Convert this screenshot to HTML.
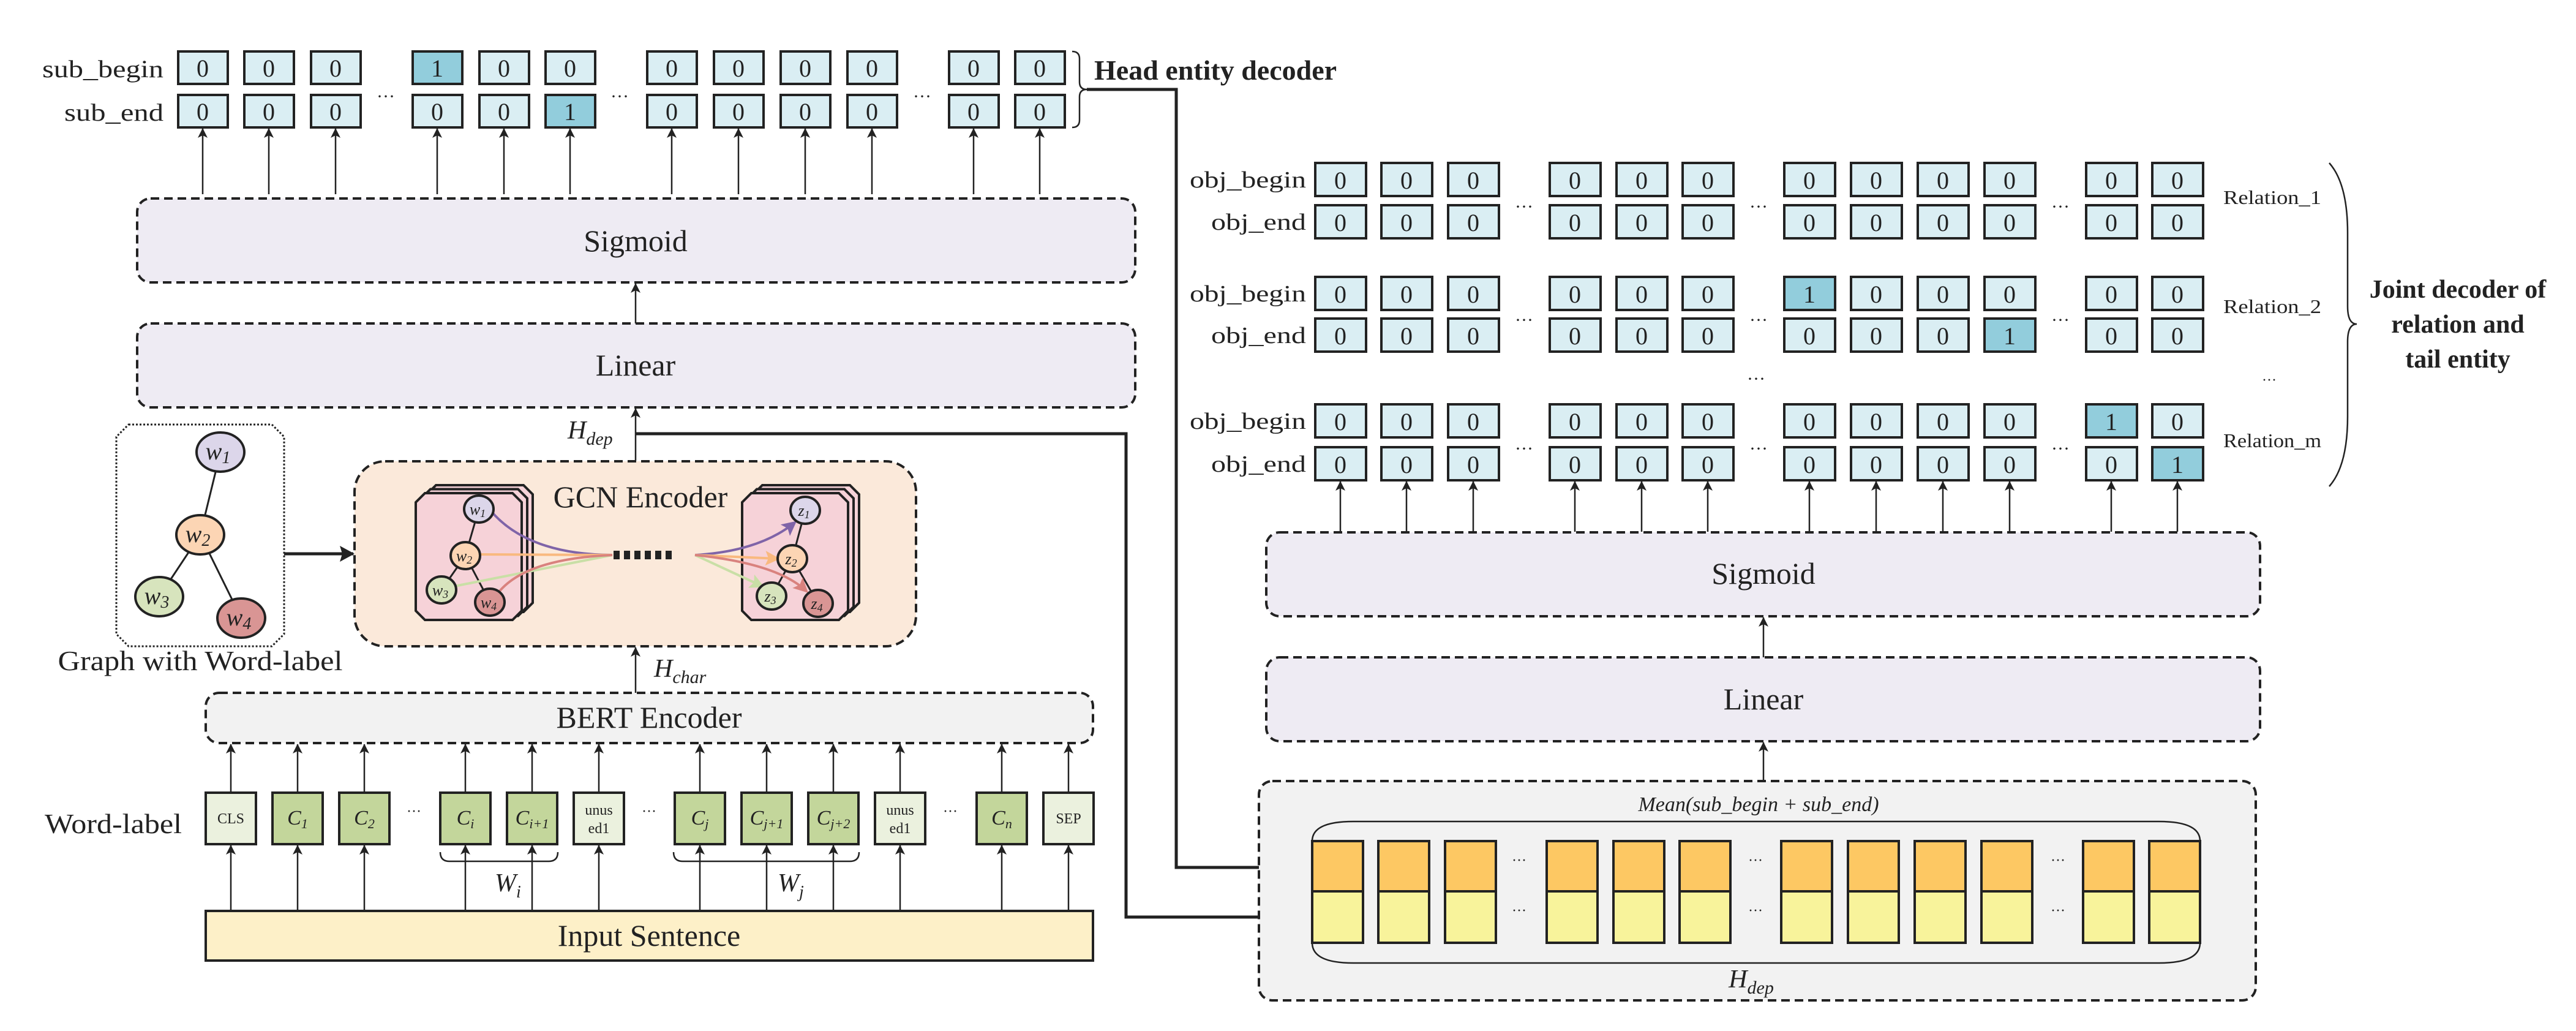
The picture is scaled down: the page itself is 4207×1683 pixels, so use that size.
<!DOCTYPE html>
<html><head><meta charset="utf-8"><style>
html,body{margin:0;padding:0;background:#fff}
svg{display:block}
text{font-family:"Liberation Serif",serif;fill:#222}
.b{fill:#daeef3;stroke:#222;stroke-width:4}
.h{fill:#92cddc;stroke:#222;stroke-width:4}
.d{font-size:40px;text-anchor:middle}
.dash{stroke:#222;stroke-width:4;stroke-dasharray:14 8}
.ln{stroke:#222;stroke-width:2.5;fill:none}
.lbl{font-size:40px;text-anchor:end}
.big{font-size:50px;text-anchor:middle}
.tk{stroke:#222;stroke-width:4}
.ell{stroke:#222;stroke-width:4}
</style></head><body>
<svg width="4207" height="1683" viewBox="0 0 4207 1683" xmlns="http://www.w3.org/2000/svg">
<defs>
<marker id="a" markerUnits="userSpaceOnUse" markerWidth="16" markerHeight="26" refX="15" refY="8" orient="auto"><path d="M0,0 L16,8 L0,16 L4,8z" fill="#222"/></marker>
<marker id="A" markerUnits="userSpaceOnUse" markerWidth="24" markerHeight="30" refX="22" refY="13" orient="auto"><path d="M0,0 L24,13 L0,26 L4,13z" fill="#222"/></marker>
<marker id="ap" markerUnits="userSpaceOnUse" markerWidth="30" markerHeight="30" refX="20" refY="12" orient="auto"><path d="M0,0 L24,12 L0,24 L5,12z" fill="#7f64a8"/></marker>
<marker id="ao" markerUnits="userSpaceOnUse" markerWidth="30" markerHeight="30" refX="20" refY="12" orient="auto"><path d="M0,0 L24,12 L0,24 L5,12z" fill="#f9b97f"/></marker>
<marker id="ag" markerUnits="userSpaceOnUse" markerWidth="30" markerHeight="30" refX="20" refY="12" orient="auto"><path d="M0,0 L24,12 L0,24 L5,12z" fill="#c9dfa6"/></marker>
<marker id="ar" markerUnits="userSpaceOnUse" markerWidth="30" markerHeight="30" refX="20" refY="12" orient="auto"><path d="M0,0 L24,12 L0,24 L5,12z" fill="#d9827e"/></marker>
</defs>

<text class="lbl" x="267" y="126" textLength="198" lengthAdjust="spacingAndGlyphs">sub_begin</text>
<text class="lbl" x="267" y="197" textLength="162" lengthAdjust="spacingAndGlyphs">sub_end</text>
<g transform="translate(291,84)">
<rect class="b" x="0" width="81" height="53"/><rect class="b" x="108" width="81" height="53"/><rect class="b" x="217" width="81" height="53"/>
<rect class="h" x="383" width="81" height="53"/><rect class="b" x="492" width="81" height="53"/><rect class="b" x="600" width="81" height="53"/>
<rect class="b" x="766" width="81" height="53"/><rect class="b" x="875" width="81" height="53"/><rect class="b" x="984" width="81" height="53"/><rect class="b" x="1093" width="81" height="53"/>
<rect class="b" x="1259" width="81" height="53"/><rect class="b" x="1367" width="81" height="53"/>
<text class="d" x="40" y="41">0</text><text class="d" x="148" y="41">0</text><text class="d" x="257" y="41">0</text><text class="d" x="423" y="41">1</text><text class="d" x="532" y="41">0</text><text class="d" x="640" y="41">0</text><text class="d" x="806" y="41">0</text><text class="d" x="915" y="41">0</text><text class="d" x="1024" y="41">0</text><text class="d" x="1133" y="41">0</text><text class="d" x="1299" y="41">0</text><text class="d" x="1407" y="41">0</text>
</g>
<g transform="translate(291,155)">
<rect class="b" x="0" width="81" height="53"/><rect class="b" x="108" width="81" height="53"/><rect class="b" x="217" width="81" height="53"/>
<rect class="b" x="383" width="81" height="53"/><rect class="b" x="492" width="81" height="53"/><rect class="h" x="600" width="81" height="53"/>
<rect class="b" x="766" width="81" height="53"/><rect class="b" x="875" width="81" height="53"/><rect class="b" x="984" width="81" height="53"/><rect class="b" x="1093" width="81" height="53"/>
<rect class="b" x="1259" width="81" height="53"/><rect class="b" x="1367" width="81" height="53"/>
<text class="d" x="40" y="41">0</text><text class="d" x="148" y="41">0</text><text class="d" x="257" y="41">0</text><text class="d" x="423" y="41">0</text><text class="d" x="532" y="41">0</text><text class="d" x="640" y="41">1</text><text class="d" x="806" y="41">0</text><text class="d" x="915" y="41">0</text><text class="d" x="1024" y="41">0</text><text class="d" x="1133" y="41">0</text><text class="d" x="1299" y="41">0</text><text class="d" x="1407" y="41">0</text>
<text x="339" y="12" font-size="30" text-anchor="middle">···</text><text x="721" y="12" font-size="30" text-anchor="middle">···</text><text x="1215" y="12" font-size="30" text-anchor="middle">···</text>
</g>
<path d="M1751,84 q12,0 12,12 v38 q0,12 12,12 q-12,0 -12,12 v38 q0,12 -12,12" class="ln" stroke-width="4"/>
<text x="1787" y="130" font-size="46" font-weight="bold">Head entity decoder</text>
<path d="M1775,146 H1921 V1416 H2141" fill="none" stroke="#222" stroke-width="5" marker-end="url(#A)"/>

<g class="ln" marker-end="url(#a)">
<line x1="331" y1="317" x2="331" y2="210"/><line x1="439" y1="317" x2="439" y2="210"/><line x1="548" y1="317" x2="548" y2="210"/>
<line x1="714" y1="317" x2="714" y2="210"/><line x1="823" y1="317" x2="823" y2="210"/><line x1="931" y1="317" x2="931" y2="210"/>
<line x1="1097" y1="317" x2="1097" y2="210"/><line x1="1206" y1="317" x2="1206" y2="210"/><line x1="1315" y1="317" x2="1315" y2="210"/><line x1="1424" y1="317" x2="1424" y2="210"/>
<line x1="1590" y1="317" x2="1590" y2="210"/><line x1="1698" y1="317" x2="1698" y2="210"/>
</g>

<rect class="dash" x="224" y="324" width="1630" height="137" rx="22" fill="#eeebf3"/>
<text class="big" x="1038" y="410">Sigmoid</text>
<line class="ln" x1="1038" y1="528" x2="1038" y2="463" marker-end="url(#a)"/>
<rect class="dash" x="224" y="528" width="1630" height="137" rx="22" fill="#eeebf3"/>
<text class="big" x="1038" y="613">Linear</text>

<line class="ln" x1="1038" y1="752" x2="1038" y2="667" marker-end="url(#a)"/>
<text x="927" y="716" font-size="42" font-style="italic">H<tspan font-size="30" dy="10">dep</tspan></text>
<path d="M1038,708 H1839 V1497 H2141" fill="none" stroke="#222" stroke-width="5" marker-end="url(#A)"/>

<polygon points="210,693 444,693 464,713 464,1035 444,1055 210,1055 190,1035 190,713" fill="#fff" stroke="#222" stroke-width="3" stroke-dasharray="3 3"/>
<g stroke="#222" stroke-width="3"><line x1="360" y1="738" x2="327" y2="873"/><line x1="327" y1="873" x2="260" y2="974"/><line x1="327" y1="873" x2="394" y2="1009"/></g>
<ellipse class="ell" cx="360" cy="738" rx="39" ry="32" fill="#dcd6ea"/>
<ellipse class="ell" cx="327" cy="873" rx="39" ry="32" fill="#fcd5b4"/>
<ellipse class="ell" cx="260" cy="974" rx="39" ry="32" fill="#d7e4bd"/>
<ellipse class="ell" cx="394" cy="1009" rx="39" ry="32" fill="#d99594"/>
<g font-size="40" font-style="italic" text-anchor="middle">
<text x="356" y="750">w<tspan font-size="28" dy="6">1</tspan></text>
<text x="323" y="885">w<tspan font-size="28" dy="6">2</tspan></text>
<text x="256" y="986">w<tspan font-size="28" dy="6">3</tspan></text>
<text x="390" y="1021">w<tspan font-size="28" dy="6">4</tspan></text>
</g>
<text x="327" y="1094" font-size="46" text-anchor="middle" textLength="465" lengthAdjust="spacingAndGlyphs">Graph with Word-label</text>
<line x1="464" y1="904" x2="577" y2="904" stroke="#222" stroke-width="5" marker-end="url(#A)"/>

<rect class="dash" x="579" y="753" width="917" height="302" rx="50" fill="#fbe9da"/>
<g fill="#f6d2d8" stroke="#222" stroke-width="4">
<polygon points="712,792 855,792 870,807 870,984 855,999 712,999 697,984 697,807"/>
<polygon points="703,798.5 846,798.5 861,813.5 861,990.5 846,1005.5 703,1005.5 688,990.5 688,813.5"/>
<polygon points="694,805 837,805 852,820 852,997 837,1012 694,1012 679,997 679,820"/>
<polygon points="1245,792 1388,792 1403,807 1403,984 1388,999 1245,999 1230,984 1230,807"/>
<polygon points="1236,798.5 1379,798.5 1394,813.5 1394,990.5 1379,1005.5 1236,1005.5 1221,990.5 1221,813.5"/>
<polygon points="1227,805 1370,805 1385,820 1385,997 1370,1012 1227,1012 1212,997 1212,820"/>
</g>
<text class="big" x="1046" y="828" font-size="48">GCN Encoder</text>
<g stroke="#222" stroke-width="3">
<line x1="782" y1="831" x2="760" y2="907"/><line x1="760" y1="907" x2="721" y2="963"/><line x1="760" y1="907" x2="800" y2="983"/>
<line x1="1315" y1="833" x2="1294" y2="912"/><line x1="1294" y1="912" x2="1260" y2="973"/><line x1="1294" y1="912" x2="1336" y2="985"/>
</g>
<g fill="none" stroke-width="4">
<path d="M800,832 Q860,905 1000,906" stroke="#7f64a8"/>
<path d="M782,905 L1000,906" stroke="#f9b97f"/>
<path d="M742,957 L1000,906" stroke="#c9dfa6"/>
<path d="M815,966 Q860,912 1000,906" stroke="#d9827e"/>
<path d="M1135,906 Q1240,900 1298,853" stroke="#7f64a8" marker-end="url(#ap)"/>
<path d="M1135,906 L1270,912" stroke="#f9b97f" marker-end="url(#ao)"/>
<path d="M1135,906 L1245,957" stroke="#c9dfa6" marker-end="url(#ag)"/>
<path d="M1135,906 Q1270,920 1317,965" stroke="#d9827e" marker-end="url(#ar)"/>
</g>
<g class="ell" stroke-width="3">
<ellipse cx="782" cy="831" rx="24" ry="22" fill="#dcd6ea"/><ellipse cx="760" cy="907" rx="24" ry="22" fill="#fcd5b4"/>
<ellipse cx="721" cy="963" rx="24" ry="22" fill="#d7e4bd"/><ellipse cx="800" cy="983" rx="24" ry="22" fill="#d99594"/>
<ellipse cx="1315" cy="833" rx="24" ry="22" fill="#dcd6ea"/><ellipse cx="1294" cy="912" rx="24" ry="22" fill="#fcd5b4"/>
<ellipse cx="1260" cy="973" rx="24" ry="22" fill="#d7e4bd"/><ellipse cx="1336" cy="985" rx="24" ry="22" fill="#d99594"/>
</g>
<g font-size="26" font-style="italic" text-anchor="middle">
<text x="780" y="840">w<tspan font-size="18" dy="4">1</tspan></text><text x="758" y="916">w<tspan font-size="18" dy="4">2</tspan></text>
<text x="719" y="972">w<tspan font-size="18" dy="4">3</tspan></text><text x="798" y="992">w<tspan font-size="18" dy="4">4</tspan></text>
<text x="1313" y="842">z<tspan font-size="18" dy="4">1</tspan></text><text x="1292" y="921">z<tspan font-size="18" dy="4">2</tspan></text>
<text x="1258" y="982">z<tspan font-size="18" dy="4">3</tspan></text><text x="1334" y="994">z<tspan font-size="18" dy="4">4</tspan></text>
</g>
<g fill="#222"><rect x="1002" y="899" width="10" height="14"/><rect x="1019" y="899" width="10" height="14"/><rect x="1036" y="899" width="10" height="14"/><rect x="1053" y="899" width="10" height="14"/><rect x="1070" y="899" width="10" height="14"/><rect x="1087" y="899" width="10" height="14"/></g>

<line class="ln" x1="1038" y1="1131" x2="1038" y2="1057" marker-end="url(#a)"/>
<text x="1068" y="1105" font-size="42" font-style="italic">H<tspan font-size="30" dy="10">char</tspan></text>

<rect class="dash" x="336" y="1131" width="1449" height="82" rx="22" fill="#f2f2f2"/>
<text class="big" x="1060" y="1188" font-size="46">BERT Encoder</text>

<g class="tk">
<rect x="336" y="1294" width="82" height="84" fill="#ebf1de"/>
<rect x="445" y="1294" width="82" height="84" fill="#c3d69b"/>
<rect x="554" y="1294" width="82" height="84" fill="#c3d69b"/>
<rect x="719" y="1294" width="82" height="84" fill="#c3d69b"/>
<rect x="828" y="1294" width="82" height="84" fill="#c3d69b"/>
<rect x="937" y="1294" width="82" height="84" fill="#ebf1de"/>
<rect x="1102" y="1294" width="82" height="84" fill="#c3d69b"/>
<rect x="1211" y="1294" width="82" height="84" fill="#c3d69b"/>
<rect x="1320" y="1294" width="82" height="84" fill="#c3d69b"/>
<rect x="1429" y="1294" width="82" height="84" fill="#ebf1de"/>
<rect x="1595" y="1294" width="82" height="84" fill="#c3d69b"/>
<rect x="1704" y="1294" width="82" height="84" fill="#ebf1de"/>
</g>
<g text-anchor="middle">
<text x="377" y="1344" font-size="24">CLS</text>
<text x="486" y="1346" font-size="34" font-style="italic">C<tspan font-size="22" dy="6">1</tspan></text>
<text x="595" y="1346" font-size="34" font-style="italic">C<tspan font-size="22" dy="6">2</tspan></text>
<text x="760" y="1346" font-size="34" font-style="italic">C<tspan font-size="22" dy="6">i</tspan></text>
<text x="869" y="1346" font-size="34" font-style="italic">C<tspan font-size="22" dy="6">i+1</tspan></text>
<text x="978" y="1330" font-size="24">unus</text><text x="978" y="1360" font-size="24">ed1</text>
<text x="1143" y="1346" font-size="34" font-style="italic">C<tspan font-size="22" dy="6">j</tspan></text>
<text x="1252" y="1346" font-size="34" font-style="italic">C<tspan font-size="22" dy="6">j+1</tspan></text>
<text x="1361" y="1346" font-size="34" font-style="italic">C<tspan font-size="22" dy="6">j+2</tspan></text>
<text x="1470" y="1330" font-size="24">unus</text><text x="1470" y="1360" font-size="24">ed1</text>
<text x="1636" y="1346" font-size="34" font-style="italic">C<tspan font-size="22" dy="6">n</tspan></text>
<text x="1745" y="1344" font-size="24">SEP</text>
<text x="676" y="1332" font-size="24">···</text><text x="1060" y="1332" font-size="24">···</text><text x="1552" y="1332" font-size="24">···</text>
</g>
<text x="297" y="1360" font-size="46" text-anchor="end" textLength="224" lengthAdjust="spacingAndGlyphs">Word-label</text>
<g class="ln" marker-end="url(#a)">
<line x1="377" y1="1294" x2="377" y2="1215"/><line x1="486" y1="1294" x2="486" y2="1215"/><line x1="595" y1="1294" x2="595" y2="1215"/>
<line x1="760" y1="1294" x2="760" y2="1215"/><line x1="869" y1="1294" x2="869" y2="1215"/><line x1="978" y1="1294" x2="978" y2="1215"/>
<line x1="1143" y1="1294" x2="1143" y2="1215"/><line x1="1252" y1="1294" x2="1252" y2="1215"/><line x1="1361" y1="1294" x2="1361" y2="1215"/><line x1="1470" y1="1294" x2="1470" y2="1215"/>
<line x1="1636" y1="1294" x2="1636" y2="1215"/><line x1="1745" y1="1294" x2="1745" y2="1215"/>
<line x1="377" y1="1487" x2="377" y2="1380"/><line x1="486" y1="1487" x2="486" y2="1380"/><line x1="595" y1="1487" x2="595" y2="1380"/>
<line x1="760" y1="1487" x2="760" y2="1380"/><line x1="869" y1="1487" x2="869" y2="1380"/><line x1="978" y1="1487" x2="978" y2="1380"/>
<line x1="1143" y1="1487" x2="1143" y2="1380"/><line x1="1252" y1="1487" x2="1252" y2="1380"/><line x1="1361" y1="1487" x2="1361" y2="1380"/><line x1="1470" y1="1487" x2="1470" y2="1380"/>
<line x1="1636" y1="1487" x2="1636" y2="1380"/><line x1="1745" y1="1487" x2="1745" y2="1380"/>
</g>
<path d="M719,1391 q0,15 15,15 H896 q15,0 15,-15" class="ln" stroke-width="3"/>
<path d="M1100,1391 q0,15 15,15 H1388 q15,0 15,-15" class="ln" stroke-width="3"/>
<text x="808" y="1455" font-size="42" font-style="italic">W<tspan font-size="28" dy="10">i</tspan></text>
<text x="1270" y="1455" font-size="42" font-style="italic">W<tspan font-size="28" dy="10">j</tspan></text>

<rect x="336" y="1487" width="1449" height="81" fill="#fdf0c8" stroke="#222" stroke-width="4"/>
<text class="big" x="1060" y="1544" font-size="46">Input Sentence</text>

<g font-size="38" text-anchor="end">
<text x="2133" y="306" textLength="190" lengthAdjust="spacingAndGlyphs">obj_begin</text>
<text x="2133" y="375" textLength="155" lengthAdjust="spacingAndGlyphs">obj_end</text>
<text x="2133" y="492" textLength="190" lengthAdjust="spacingAndGlyphs">obj_begin</text>
<text x="2133" y="560" textLength="155" lengthAdjust="spacingAndGlyphs">obj_end</text>
<text x="2133" y="700" textLength="190" lengthAdjust="spacingAndGlyphs">obj_begin</text>
<text x="2133" y="770" textLength="155" lengthAdjust="spacingAndGlyphs">obj_end</text>
</g>
<g transform="translate(2148,266)">
<rect class="b" x="0" width="83" height="54"/><rect class="b" x="108" width="83" height="54"/><rect class="b" x="217" width="83" height="54"/><rect class="b" x="383" width="83" height="54"/><rect class="b" x="492" width="83" height="54"/><rect class="b" x="600" width="83" height="54"/><rect class="b" x="766" width="83" height="54"/><rect class="b" x="875" width="83" height="54"/><rect class="b" x="984" width="83" height="54"/><rect class="b" x="1093" width="83" height="54"/><rect class="b" x="1259" width="83" height="54"/><rect class="b" x="1367" width="83" height="54"/>
<text class="d" x="41" y="42">0</text><text class="d" x="149" y="42">0</text><text class="d" x="258" y="42">0</text><text class="d" x="424" y="42">0</text><text class="d" x="533" y="42">0</text><text class="d" x="641" y="42">0</text><text class="d" x="807" y="42">0</text><text class="d" x="916" y="42">0</text><text class="d" x="1025" y="42">0</text><text class="d" x="1134" y="42">0</text><text class="d" x="1300" y="42">0</text><text class="d" x="1408" y="42">0</text>
</g>
<g transform="translate(2148,335)">
<rect class="b" x="0" width="83" height="54"/><rect class="b" x="108" width="83" height="54"/><rect class="b" x="217" width="83" height="54"/><rect class="b" x="383" width="83" height="54"/><rect class="b" x="492" width="83" height="54"/><rect class="b" x="600" width="83" height="54"/><rect class="b" x="766" width="83" height="54"/><rect class="b" x="875" width="83" height="54"/><rect class="b" x="984" width="83" height="54"/><rect class="b" x="1093" width="83" height="54"/><rect class="b" x="1259" width="83" height="54"/><rect class="b" x="1367" width="83" height="54"/>
<text class="d" x="41" y="42">0</text><text class="d" x="149" y="42">0</text><text class="d" x="258" y="42">0</text><text class="d" x="424" y="42">0</text><text class="d" x="533" y="42">0</text><text class="d" x="641" y="42">0</text><text class="d" x="807" y="42">0</text><text class="d" x="916" y="42">0</text><text class="d" x="1025" y="42">0</text><text class="d" x="1134" y="42">0</text><text class="d" x="1300" y="42">0</text><text class="d" x="1408" y="42">0</text>
<text x="341" y="12" font-size="30" text-anchor="middle">···</text><text x="724" y="12" font-size="30" text-anchor="middle">···</text><text x="1217" y="12" font-size="30" text-anchor="middle">···</text>
</g>
<g transform="translate(2148,452)">
<rect class="b" x="0" width="83" height="54"/><rect class="b" x="108" width="83" height="54"/><rect class="b" x="217" width="83" height="54"/><rect class="b" x="383" width="83" height="54"/><rect class="b" x="492" width="83" height="54"/><rect class="b" x="600" width="83" height="54"/><rect class="h" x="766" width="83" height="54"/><rect class="b" x="875" width="83" height="54"/><rect class="b" x="984" width="83" height="54"/><rect class="b" x="1093" width="83" height="54"/><rect class="b" x="1259" width="83" height="54"/><rect class="b" x="1367" width="83" height="54"/>
<text class="d" x="41" y="42">0</text><text class="d" x="149" y="42">0</text><text class="d" x="258" y="42">0</text><text class="d" x="424" y="42">0</text><text class="d" x="533" y="42">0</text><text class="d" x="641" y="42">0</text><text class="d" x="807" y="42">1</text><text class="d" x="916" y="42">0</text><text class="d" x="1025" y="42">0</text><text class="d" x="1134" y="42">0</text><text class="d" x="1300" y="42">0</text><text class="d" x="1408" y="42">0</text>
</g>
<g transform="translate(2148,520)">
<rect class="b" x="0" width="83" height="54"/><rect class="b" x="108" width="83" height="54"/><rect class="b" x="217" width="83" height="54"/><rect class="b" x="383" width="83" height="54"/><rect class="b" x="492" width="83" height="54"/><rect class="b" x="600" width="83" height="54"/><rect class="b" x="766" width="83" height="54"/><rect class="b" x="875" width="83" height="54"/><rect class="b" x="984" width="83" height="54"/><rect class="h" x="1093" width="83" height="54"/><rect class="b" x="1259" width="83" height="54"/><rect class="b" x="1367" width="83" height="54"/>
<text class="d" x="41" y="42">0</text><text class="d" x="149" y="42">0</text><text class="d" x="258" y="42">0</text><text class="d" x="424" y="42">0</text><text class="d" x="533" y="42">0</text><text class="d" x="641" y="42">0</text><text class="d" x="807" y="42">0</text><text class="d" x="916" y="42">0</text><text class="d" x="1025" y="42">0</text><text class="d" x="1134" y="42">1</text><text class="d" x="1300" y="42">0</text><text class="d" x="1408" y="42">0</text>
<text x="341" y="12" font-size="30" text-anchor="middle">···</text><text x="724" y="12" font-size="30" text-anchor="middle">···</text><text x="1217" y="12" font-size="30" text-anchor="middle">···</text>
</g>
<text x="2868" y="628" font-size="30" text-anchor="middle">···</text>
<text x="3706" y="628" font-size="24" text-anchor="middle">···</text>
<g transform="translate(2148,660)">
<rect class="b" x="0" width="83" height="54"/><rect class="b" x="108" width="83" height="54"/><rect class="b" x="217" width="83" height="54"/><rect class="b" x="383" width="83" height="54"/><rect class="b" x="492" width="83" height="54"/><rect class="b" x="600" width="83" height="54"/><rect class="b" x="766" width="83" height="54"/><rect class="b" x="875" width="83" height="54"/><rect class="b" x="984" width="83" height="54"/><rect class="b" x="1093" width="83" height="54"/><rect class="h" x="1259" width="83" height="54"/><rect class="b" x="1367" width="83" height="54"/>
<text class="d" x="41" y="42">0</text><text class="d" x="149" y="42">0</text><text class="d" x="258" y="42">0</text><text class="d" x="424" y="42">0</text><text class="d" x="533" y="42">0</text><text class="d" x="641" y="42">0</text><text class="d" x="807" y="42">0</text><text class="d" x="916" y="42">0</text><text class="d" x="1025" y="42">0</text><text class="d" x="1134" y="42">0</text><text class="d" x="1300" y="42">1</text><text class="d" x="1408" y="42">0</text>
</g>
<g transform="translate(2148,730)">
<rect class="b" x="0" width="83" height="54"/><rect class="b" x="108" width="83" height="54"/><rect class="b" x="217" width="83" height="54"/><rect class="b" x="383" width="83" height="54"/><rect class="b" x="492" width="83" height="54"/><rect class="b" x="600" width="83" height="54"/><rect class="b" x="766" width="83" height="54"/><rect class="b" x="875" width="83" height="54"/><rect class="b" x="984" width="83" height="54"/><rect class="b" x="1093" width="83" height="54"/><rect class="b" x="1259" width="83" height="54"/><rect class="h" x="1367" width="83" height="54"/>
<text class="d" x="41" y="42">0</text><text class="d" x="149" y="42">0</text><text class="d" x="258" y="42">0</text><text class="d" x="424" y="42">0</text><text class="d" x="533" y="42">0</text><text class="d" x="641" y="42">0</text><text class="d" x="807" y="42">0</text><text class="d" x="916" y="42">0</text><text class="d" x="1025" y="42">0</text><text class="d" x="1134" y="42">0</text><text class="d" x="1300" y="42">0</text><text class="d" x="1408" y="42">1</text>
<text x="341" y="12" font-size="30" text-anchor="middle">···</text><text x="724" y="12" font-size="30" text-anchor="middle">···</text><text x="1217" y="12" font-size="30" text-anchor="middle">···</text>
</g>
<g font-size="32">
<text x="3631" y="333" textLength="160" lengthAdjust="spacingAndGlyphs">Relation_1</text>
<text x="3631" y="511" textLength="160" lengthAdjust="spacingAndGlyphs">Relation_2</text>
<text x="3631" y="730" textLength="160" lengthAdjust="spacingAndGlyphs">Relation_m</text>
</g>
<path d="M3804,266 Q3834,300 3834,380 V500 Q3834,529 3849,529 Q3834,529 3834,558 V680 Q3834,760 3804,794" class="ln" stroke-width="4"/>
<g font-size="42" font-weight="bold" text-anchor="middle">
<text x="4014" y="486">Joint decoder of</text>
<text x="4014" y="543">relation and</text>
<text x="4014" y="600">tail entity</text>
</g>
<g class="ln" marker-end="url(#a)">
<line x1="2189" y1="868" x2="2189" y2="786"/><line x1="2297" y1="868" x2="2297" y2="786"/><line x1="2406" y1="868" x2="2406" y2="786"/>
<line x1="2572" y1="868" x2="2572" y2="786"/><line x1="2681" y1="868" x2="2681" y2="786"/><line x1="2789" y1="868" x2="2789" y2="786"/>
<line x1="2955" y1="868" x2="2955" y2="786"/><line x1="3064" y1="868" x2="3064" y2="786"/><line x1="3173" y1="868" x2="3173" y2="786"/><line x1="3282" y1="868" x2="3282" y2="786"/>
<line x1="3448" y1="868" x2="3448" y2="786"/><line x1="3556" y1="868" x2="3556" y2="786"/>
</g>

<rect class="dash" x="2068" y="869" width="1623" height="137" rx="22" fill="#eeebf3"/>
<text class="big" x="2880" y="953">Sigmoid</text>
<line class="ln" x1="2880" y1="1073" x2="2880" y2="1008" marker-end="url(#a)"/>
<rect class="dash" x="2068" y="1073" width="1623" height="137" rx="22" fill="#eeebf3"/>
<text class="big" x="2880" y="1158">Linear</text>
<line class="ln" x1="2880" y1="1275" x2="2880" y2="1212" marker-end="url(#a)"/>

<rect class="dash" x="2056" y="1275" width="1628" height="358" rx="22" fill="#f2f2f2"/>
<text x="2872" y="1324" font-size="34" font-style="italic" text-anchor="middle">Mean(sub_begin + sub_end)</text>
<path d="M2143,1373 Q2143,1341 2210,1341 H3526 Q3593,1341 3593,1373 M2143,1539 Q2143,1572 2210,1572 H3526 Q3593,1572 3593,1539" class="ln" stroke-width="4"/>
<g transform="translate(2143,1373)" stroke="#222" stroke-width="4">
<rect x="0" width="83" height="82" fill="#fdc863"/><rect x="108" width="83" height="82" fill="#fdc863"/><rect x="217" width="83" height="82" fill="#fdc863"/><rect x="383" width="83" height="82" fill="#fdc863"/><rect x="492" width="83" height="82" fill="#fdc863"/><rect x="600" width="83" height="82" fill="#fdc863"/><rect x="766" width="83" height="82" fill="#fdc863"/><rect x="875" width="83" height="82" fill="#fdc863"/><rect x="984" width="83" height="82" fill="#fdc863"/><rect x="1093" width="83" height="82" fill="#fdc863"/><rect x="1259" width="83" height="82" fill="#fdc863"/><rect x="1367" width="83" height="82" fill="#fdc863"/>
<rect x="0" y="82" width="83" height="84" fill="#f8f39b"/><rect x="108" y="82" width="83" height="84" fill="#f8f39b"/><rect x="217" y="82" width="83" height="84" fill="#f8f39b"/><rect x="383" y="82" width="83" height="84" fill="#f8f39b"/><rect x="492" y="82" width="83" height="84" fill="#f8f39b"/><rect x="600" y="82" width="83" height="84" fill="#f8f39b"/><rect x="766" y="82" width="83" height="84" fill="#f8f39b"/><rect x="875" y="82" width="83" height="84" fill="#f8f39b"/><rect x="984" y="82" width="83" height="84" fill="#f8f39b"/><rect x="1093" y="82" width="83" height="84" fill="#f8f39b"/><rect x="1259" y="82" width="83" height="84" fill="#f8f39b"/><rect x="1367" y="82" width="83" height="84" fill="#f8f39b"/>
</g>
<g font-size="24" text-anchor="middle">
<text x="2481" y="1412">···</text><text x="2867" y="1412">···</text><text x="3361" y="1412">···</text>
<text x="2481" y="1494">···</text><text x="2867" y="1494">···</text><text x="3361" y="1494">···</text>
</g>
<text x="2860" y="1612" font-size="42" font-style="italic" text-anchor="middle">H<tspan font-size="30" dy="10">dep</tspan></text>
</svg>
</body></html>
